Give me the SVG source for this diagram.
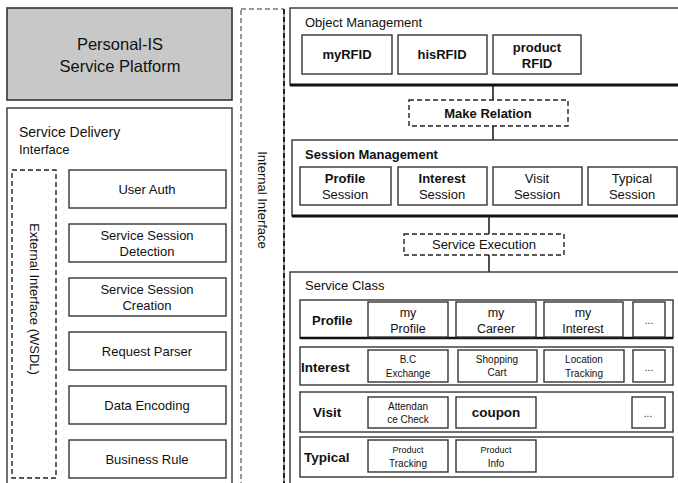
<svg xmlns="http://www.w3.org/2000/svg" width="678" height="483" viewBox="0 0 678 483">
<style>
text{font-family:"Liberation Sans","DejaVu Sans",sans-serif;fill:#111;}
.box{fill:#fff;stroke:#333;stroke-width:1.4;}
.thick{fill:#fff;stroke:#222;stroke-width:2;}
.dash{fill:#fff;stroke:#222;stroke-width:1.4;stroke-dasharray:5,3;}
.c{text-anchor:middle;}
.t13{font-size:13px;}
.t12{font-size:12.5px;}
.t10{font-size:10px;}
.b{font-weight:bold;}
.ln{stroke:#222;stroke-width:1.6;fill:none;}
</style>
<rect width="678" height="483" fill="#fff"/>

<g id="platform">
<rect x="7" y="8" width="225" height="92" fill="#c8c8c8" stroke="#333" stroke-width="1.6"/>
<text class="c" x="120" y="50" font-size="16.5">Personal-IS</text>
<text class="c" x="120" y="72" font-size="16.5">Service Platform</text>
</g>

<g id="service-delivery">
<rect x="7" y="108" width="225" height="380" class="box" stroke-width="1.8"/>
<text x="19" y="137" font-size="14">Service Delivery</text>
<text x="19" y="154" font-size="13">Interface</text>
</g>

<g id="external-interface">
<rect x="12" y="170" width="44" height="308" class="dash"/>
<text class="t13" transform="translate(30,299) rotate(90)" text-anchor="middle">External  Interface (WSDL)</text>
</g>

<g id="user-auth"><rect x="69" y="170" width="157" height="38" class="box"/><text class="c t13" x="147" y="194">User Auth</text></g>
<g id="session-detection"><rect x="69" y="224" width="157" height="38" class="box"/><text class="c t13" x="147" y="240">Service Session</text><text class="c t13" x="147" y="256">Detection</text></g>
<g id="session-creation"><rect x="69" y="278" width="157" height="38" class="box"/><text class="c t13" x="147" y="294">Service Session</text><text class="c t13" x="147" y="310">Creation</text></g>
<g id="request-parser"><rect x="69" y="332" width="157" height="38" class="box"/><text class="c t13" x="147" y="356">Request Parser</text></g>
<g id="data-encoding"><rect x="69" y="386" width="157" height="38" class="box"/><text class="c t13" x="147" y="410">Data Encoding</text></g>
<g id="business-rule"><rect x="69" y="440" width="157" height="38" class="box"/><text class="c t13" x="147" y="464">Business Rule</text></g>

<g id="internal-interface">
<rect x="241" y="9" width="43" height="480" fill="none" stroke="#333" stroke-width="1" stroke-dasharray="5,3"/>
<line x1="284" y1="9" x2="284" y2="483" stroke="#222" stroke-width="2" stroke-dasharray="5,3"/>
<text class="t13" transform="translate(258,200) rotate(90)" text-anchor="middle">Internal  Interface</text>
</g>

<g id="connectors">
<line class="ln" x1="493" y1="85" x2="493" y2="100"/>
<line class="ln" x1="493" y1="126" x2="493" y2="140"/>
<line class="ln" x1="489" y1="216" x2="489" y2="234"/>
<line class="ln" x1="489" y1="255" x2="489" y2="272"/>
</g>

<g id="object-management">
<rect x="290" y="8" width="395" height="77" class="box"/>
<line x1="290" y1="85" x2="678" y2="85" stroke="#111" stroke-width="3"/>
<text x="305" y="27" font-size="13">Object Management</text>
</g>
<g id="myRFID"><rect x="302" y="35" width="90" height="39" class="box"/><text class="c t13 b" x="347" y="59">myRFID</text></g>
<g id="hisRFID"><rect x="398" y="35" width="89" height="39" class="box"/><text class="c t13 b" x="442" y="59">hisRFID</text></g>
<g id="productRFID"><rect x="493" y="35" width="88" height="39" class="box"/><text class="c t13 b" x="537" y="52">product</text><text class="c t13 b" x="537" y="68">RFID</text></g>

<g id="make-relation"><rect x="409" y="100" width="159" height="26" class="dash"/><text class="c t13 b" x="488" y="118">Make Relation</text></g>

<g id="session-management">
<rect x="292" y="140" width="393" height="76" class="box"/>
<line x1="292" y1="216" x2="678" y2="216" stroke="#111" stroke-width="3"/>
<text x="305" y="159" font-size="13" class="b">Session Management</text>
</g>
<g id="profile-session"><rect x="300" y="167" width="91" height="38" class="box"/><text class="c t13 b" x="345" y="183">Profile</text><text class="c t13" x="345" y="199">Session</text></g>
<g id="interest-session"><rect x="398" y="167" width="89" height="38" class="box"/><text class="c t13 b" x="442" y="183">Interest</text><text class="c t13" x="442" y="199">Session</text></g>
<g id="visit-session"><rect x="493" y="167" width="89" height="38" class="box"/><text class="c t13" x="537" y="183">Visit</text><text class="c t13" x="537" y="199">Session</text></g>
<g id="typical-session"><rect x="588" y="167" width="89" height="38" class="box"/><text class="c t13" x="632" y="183">Typical</text><text class="c t13" x="632" y="199">Session</text></g>

<g id="service-execution"><rect x="404" y="234" width="160" height="21" class="dash"/><text class="c t13" x="484" y="249">Service Execution</text></g>

<g id="service-class">
<rect x="290" y="272" width="395" height="220" class="box"/>
<text x="305" y="290" font-size="13">Service Class</text>
</g>

<g id="profile-row">
<rect x="300" y="300" width="373" height="38" class="box"/>
<line x1="300" y1="338" x2="673" y2="338" stroke="#111" stroke-width="2.5"/>
<text x="312" y="325" class="t13 b" font-size="14">Profile</text>
</g>
<g id="my-profile"><rect x="368" y="302" width="80" height="35" class="box"/><text class="c t12" x="408" y="317">my</text><text class="c t12" x="408" y="333">Profile</text></g>
<g id="my-career"><rect x="456" y="302" width="80" height="35" class="box"/><text class="c t12" x="496" y="317">my</text><text class="c t12" x="496" y="333">Career</text></g>
<g id="my-interest"><rect x="544" y="302" width="79" height="35" class="box"/><text class="c t12" x="583" y="317">my</text><text class="c t12" x="583" y="333">Interest</text></g>
<g id="profile-more"><rect x="633" y="302" width="32" height="35" class="box"/><text class="c t10" x="649" y="324">...</text></g>

<g id="interest-row">
<rect x="300" y="347" width="373" height="38" class="box"/>
<text x="301" y="372" class="b" font-size="13.5">Interest</text>
</g>
<g id="bc-exchange"><rect x="368" y="350" width="80" height="32" class="box"/><text class="c t10" x="408" y="363">B.C</text><text class="c t10" x="408" y="377">Exchange</text></g>
<g id="shopping-cart"><rect x="458" y="350" width="79" height="32" class="box"/><text class="c t10" x="497" y="363">Shopping</text><text class="c t10" x="497" y="376">Cart</text></g>
<g id="location-tracking"><rect x="544" y="350" width="80" height="32" class="box"/><text class="c t10" x="584" y="363">Location</text><text class="c t10" x="584" y="377">Tracking</text></g>
<g id="interest-more"><rect x="633" y="350" width="32" height="32" class="box"/><text class="c t10" x="649" y="371">...</text></g>

<g id="visit-row">
<rect x="300" y="392" width="373" height="40" class="box"/>
<text x="313" y="417" class="b" font-size="13.5">Visit</text>
</g>
<g id="attendance-check"><rect x="368" y="397" width="80" height="31" class="box"/><text class="c t10" x="408" y="410">Attendan</text><text class="c t10" x="408" y="423">ce Check</text></g>
<g id="coupon"><rect x="456" y="397" width="80" height="31" class="box"/><text class="c b" x="496" y="417" font-size="13.5">coupon</text></g>
<g id="visit-more"><rect x="632" y="397" width="33" height="31" class="box"/><text class="c t10" x="648" y="417">...</text></g>

<g id="typical-row">
<rect x="300" y="437" width="373" height="40" class="box"/>
<text x="304" y="462" class="b" font-size="13.5">Typical</text>
</g>
<g id="product-tracking"><rect x="368" y="440" width="80" height="32" class="box"/><text class="c" x="408" y="453" font-size="9">Product</text><text class="c t10" x="408" y="467">Tracking</text></g>
<g id="product-info"><rect x="456" y="440" width="80" height="32" class="box"/><text class="c" x="496" y="453" font-size="9">Product</text><text class="c t10" x="496" y="467">Info</text></g>
</svg>
